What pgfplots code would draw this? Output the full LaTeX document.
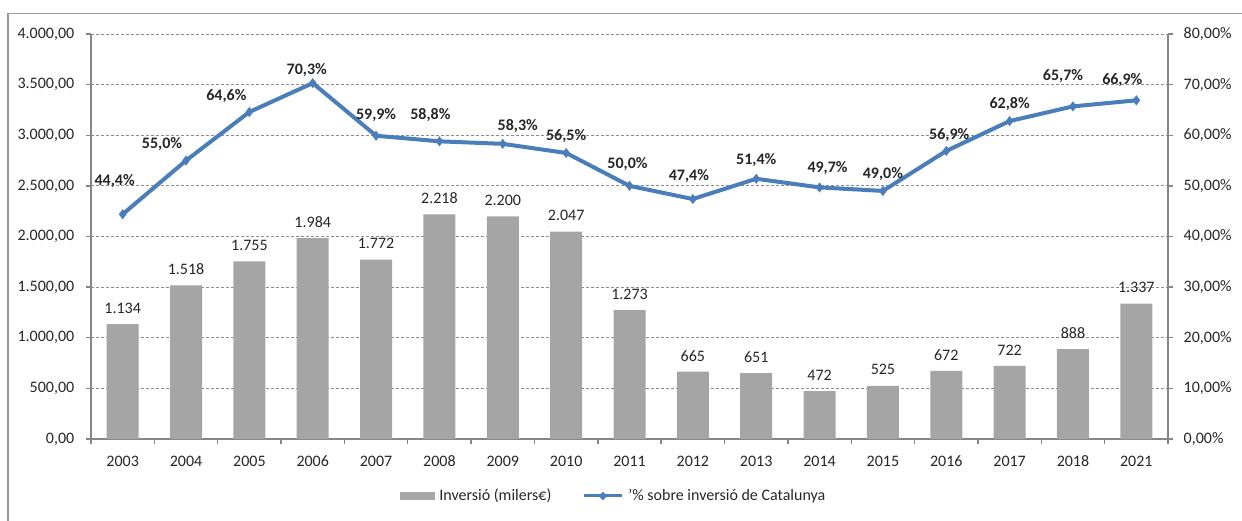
\documentclass[border=0pt]{standalone}
\usepackage{pgfplots}
\pgfplotsset{compat=1.18}
\usepackage{pgfplotstable}
\usepackage{fontspec}
\setmainfont{Carlito}
\definecolor{barcol}{HTML}{A5A5A5}
\definecolor{linecol}{HTML}{4A7EBB}
\definecolor{gridcol}{HTML}{8C8C8C}
\definecolor{axcol}{HTML}{868686}
\definecolor{txt}{HTML}{262626}
\definecolor{framecol}{HTML}{9A9A9A}

\pgfplotstableread{
x year bar pct dx dy
0 2003 1134 44.4 -4 16.5
1 2004 1518 55.0 -12 8
2 2005 1755 64.6 -11.5 8
3 2006 1984 70.3 -3 6.5
4 2007 1772 59.9 0 10.5
5 2008 2218 58.8 -4.5 13
6 2009 2200 58.3 7.5 9
7 2010 2047 56.5 0 8.5
8 2011 1273 50.0 -1 11
9 2012 665 47.4 -2 11.5
10 2013 651 51.4 0 9.5
11 2014 472 49.7 4 9.5
12 2015 525 49.0 0 8.5
13 2016 672 56.9 1.5 8
14 2017 722 62.8 0 8.5
15 2018 888 65.7 -5 15
16 2021 1337 66.9 -7 10
}\data

\begin{document}
\fontsize{8}{9.5}\selectfont
\begin{tikzpicture}[font=\fontsize{8}{9.5}\selectfont, text=txt]
\useasboundingbox (0,0) rectangle (621pt,-260pt);
\draw[framecol, line width=0.7pt] (4pt,-280pt) -- (4pt,-6.75pt) -- (640pt,-6.75pt);
\begin{axis}[
  at={(45.5pt,-17pt)}, anchor=north west,
  scale only axis, width=538.5pt, height=202.5pt,
  xmin=-0.5, xmax=16.5, ymin=0, ymax=4000,
  axis x line*=bottom, axis y line*=left,
  axis line style={-, axcol, line width=0.7pt},
  xtick={0,...,16},
  xticklabels={2003,2004,2005,2006,2007,2008,2009,2010,2011,2012,2013,2014,2015,2016,2017,2018,2021},
  major x tick style={draw=none},
  minor xtick={-0.5,0.5,...,16.5},
  minor x tick style={axcol, line width=0.7pt},
  minor tick length=2.5pt,
  major tick length=2.5pt,
  tick align=outside,
  ytick={0,500,...,4000},
  y tick style={axcol, line width=0.7pt},
  scaled y ticks=false,
  yticklabel={\pgfmathprintnumber[fixed,fixed zerofill,precision=2,use comma,1000 sep={.},assume math mode=true]{\tick}},
  xticklabel style={yshift=-3pt},
  yticklabel style={xshift=-3pt},
  ymajorgrids,
  major grid style={gridcol, dash pattern=on 1.5pt off 1pt, line width=0.45pt},
  clip=false,
]
\addplot[ybar, bar width=16pt, fill=barcol, draw=none,
  nodes near coords={\pgfmathprintnumber[fixed,precision=0,1000 sep={.},assume math mode=true]{\pgfplotspointmeta}},
  nodes near coords style={anchor=center, yshift=8pt, text=txt}]
  table[x=x, y=bar]{\data};
\end{axis}
\begin{axis}[
  at={(45.5pt,-17pt)}, anchor=north west,
  scale only axis, width=538.5pt, height=202.5pt,
  xmin=-0.5, xmax=16.5, ymin=0, ymax=80,
  axis x line=none, axis y line*=right,
  axis line style={-, axcol, line width=0.7pt},
  ytick={0,10,...,80},
  y tick style={axcol, line width=0.7pt},
  major tick length=2.5pt,
  tick align=outside,
  yticklabel={\pgfmathprintnumber[fixed,fixed zerofill,precision=2,use comma,assume math mode=true]{\tick}\%},
  yticklabel style={xshift=2.5pt},
  clip=false,
  legend columns=2,
  legend style={at={(0.4865,-0.1407)}, anchor=center, draw=none, fill=none,
    font=\fontsize{8}{9.5}\selectfont,
    /tikz/every even column/.append style={column sep=13pt},
    nodes={inner xsep=2.5pt, inner ysep=1.2pt}},
]
\addlegendimage{legend image code/.code={\fill[barcol] (0pt,-1.75pt) rectangle (17pt,1.75pt);}}
\addlegendentry{Inversió (milers€)}
\addplot[linecol, line width=2pt, mark=diamond*, mark size=0.9pt,
  visualization depends on={\thisrow{dx}\as\dx},
  visualization depends on={\thisrow{dy}\as\dy},
  nodes near coords={\pgfmathprintnumber[fixed,fixed zerofill,precision=1,use comma,assume math mode=true]{\pgfplotspointmeta}\%},
  nodes near coords style={font=\fontsize{8}{9.5}\selectfont\bfseries, text=txt, anchor=center, xshift=\dx*1pt, yshift=\dy*1pt},
  legend image code/.code={\draw[linecol, line width=1.5pt] (0pt,0pt) -- (19pt,0pt); \fill[linecol] (9.5pt,0pt) circle (0.7pt);}]
  table[x=x, y=pct]{\data};
\addlegendentry{'\% sobre inversió de Catalunya}
\end{axis}
\end{tikzpicture}
\end{document}
